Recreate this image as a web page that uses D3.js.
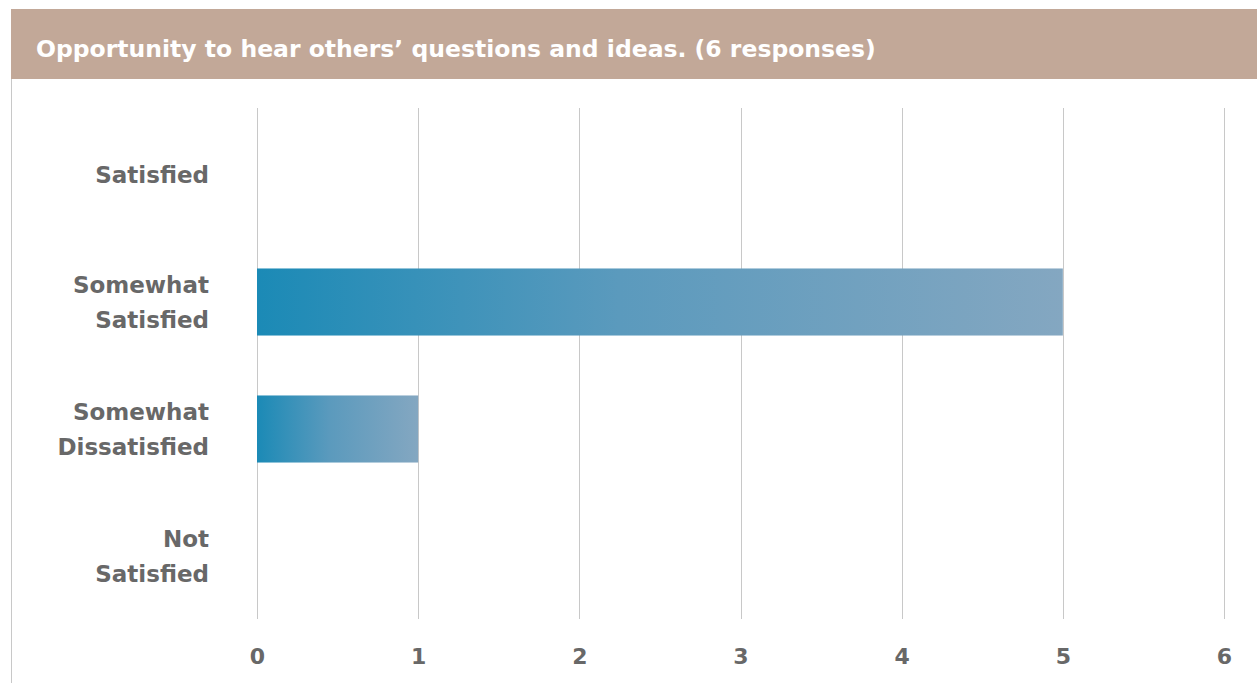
<!DOCTYPE html>
<html>
<head>
<meta charset="utf-8">
<script src="https://cdn.jsdelivr.net/npm/d3@7"></script>
<style>
  html, body { margin: 0; padding: 0; background: #fff; }
  svg { display: block; }
</style>
</head>
<body>
<svg id="chart" width="1257" height="683"></svg>
<script>
// Survey question and response counts
const title = "Opportunity to hear others\u2019 questions and ideas. (6 responses)";
const categories = ["Satisfied", "Somewhat Satisfied", "Somewhat Dissatisfied", "Not Satisfied"];
const categoryLines = [["Satisfied"], ["Somewhat", "Satisfied"], ["Somewhat", "Dissatisfied"], ["Not", "Satisfied"]];
const counts = [0, 5, 1, 0];
const xTicks = [0, 1, 2, 3, 4, 5, 6];

const FONT = "'DejaVu Sans', sans-serif";
const svg = d3.select("#chart");
const W = 1257, H = 683;

// Card frame and header
svg.append("rect").attr("x", 11).attr("y", 79).attr("width", W - 11).attr("height", H - 79)
  .attr("fill", "#fff");
svg.append("line").attr("x1", 11.5).attr("x2", 11.5).attr("y1", 79).attr("y2", H)
  .attr("stroke", "#c8c8c8").attr("stroke-width", 1);
svg.append("rect").attr("x", 11).attr("y", 9).attr("width", W - 11).attr("height", 70)
  .attr("fill", "#c2a898");
svg.append("text").attr("x", 36).attr("y", 57)
  .attr("fill", "#fff").attr("font-family", FONT).attr("font-weight", 700)
  .attr("font-size", 23.5).text(title);

// Scales
const x = d3.scaleLinear().domain([0, 6]).range([257, 1224]);
const y = d3.scaleBand().domain(categories).range([111.5, 619.5]).paddingInner(0.472).paddingOuter(0.236);

// Gradient for bars, spanning each bar's own width
const defs = svg.append("defs");
const grad = defs.append("linearGradient").attr("id", "barGrad")
  .attr("x1", "0%").attr("x2", "100%").attr("y1", "0%").attr("y2", "0%");
grad.append("stop").attr("offset", "0%").attr("stop-color", "#1b8ab6");
grad.append("stop").attr("offset", "45%").attr("stop-color", "#5b9abd");
grad.append("stop").attr("offset", "100%").attr("stop-color", "#84a7c1");

// Vertical gridlines
svg.append("g").selectAll("line").data(xTicks).join("line")
  .attr("x1", d => Math.round(x(d)) + 0.5).attr("x2", d => Math.round(x(d)) + 0.5)
  .attr("y1", 108).attr("y2", 619)
  .attr("stroke", "#c8c8c8").attr("stroke-width", 1);

// Bars
svg.append("g").selectAll("rect").data(categories.map((c, i) => ({c, v: counts[i]})).filter(d => d.v > 0))
  .join("rect")
  .attr("x", x(0)).attr("y", d => y(d.c))
  .attr("width", d => x(d.v) - x(0)).attr("height", y.bandwidth())
  .attr("fill", "url(#barGrad)");

// X axis tick labels
const xAxis = d3.axisBottom(x).tickValues(xTicks).tickSize(0).tickPadding(0).tickFormat(d3.format("d"));
const gx = svg.append("g").attr("transform", "translate(0,656)").call(xAxis);
gx.select(".domain").remove();
gx.selectAll("text").attr("font-family", FONT).attr("font-weight", 700)
  .attr("font-size", 22).attr("fill", "#686868").attr("dy", "0.36em");

// Category labels
const gy = svg.append("g");
categories.forEach((c, i) => {
  const lines = categoryLines[i];
  const cy = y(c) + y.bandwidth() / 2;
  const lh = 35;
  const t = gy.append("text").attr("text-anchor", "end")
    .attr("font-family", FONT).attr("font-weight", 700)
    .attr("font-size", 23).attr("fill", "#686868");
  lines.forEach((ln, j) => {
    t.append("tspan").attr("x", 209)
      .attr("y", cy + (j - (lines.length - 1) / 2) * lh)
      .attr("dy", "0.36em").text(ln);
  });
});
</script>
</body>
</html>
